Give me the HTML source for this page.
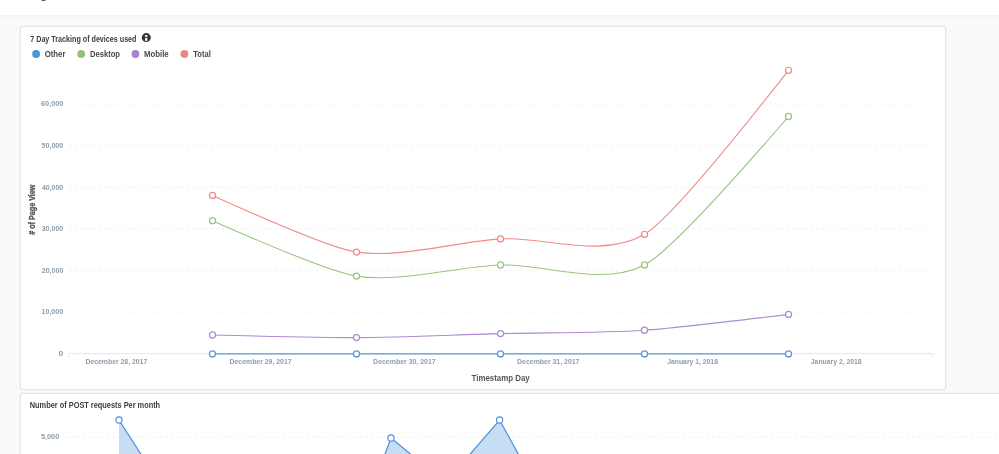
<!DOCTYPE html>
<html><head><meta charset="utf-8">
<style>
html,body{margin:0;padding:0;width:999px;height:454px;overflow:hidden;background:#fff;font-family:"Liberation Sans", sans-serif;}
.hdr{position:absolute;left:0;top:0;width:999px;height:15px;background:#fff;}
.hb{position:absolute;left:0;top:15px;width:999px;height:2px;background:#f4f5f5;}
.bg{position:absolute;left:0;top:17px;width:999px;height:437px;background:#f9fafb;}
.card{position:absolute;background:#fff;border:1px solid #e6e6e6;border-radius:3px;box-sizing:border-box;box-shadow:0 0 0 0.6px #eeeeee;}
.c1{left:20px;top:26px;width:925.6px;height:363.5px;}
.c2{left:20px;top:393px;width:1000px;height:80px;}
.glyph{position:absolute;left:40.7px;top:-4px;width:5px;height:5px;background:#50535c;border-radius:0 0 2px 2px;}
svg{position:absolute;left:0;top:0;will-change:transform;}
</style></head><body>
<div class="hdr"><div class="glyph"></div></div>
<div class="hb"></div>
<div class="bg"></div>
<div class="card c1"></div>
<div class="card c2"></div>
<svg width="999" height="454" viewBox="0 0 999 454" font-family='"Liberation Sans", sans-serif'>
<circle cx="146.3" cy="37.6" r="4.5" fill="#333"/>
<rect x="145.15" y="35.0" width="2.2" height="1.9" fill="#fff"/>
<rect x="145.15" y="37.9" width="2.2" height="3.0" fill="#fff"/>
<circle cx="36.1" cy="54" r="3.9" fill="#4a93df"/>
<circle cx="81.2" cy="54" r="3.9" fill="#93c175"/>
<circle cx="135.4" cy="54" r="3.9" fill="#a685cc"/>
<circle cx="184.4" cy="54" r="3.9" fill="#ee8585"/>
<line x1="68.9" y1="312.02" x2="930.5" y2="312.02" stroke="#f2f2f2" stroke-width="1" stroke-dasharray="3.2,2.682"/>
<line x1="68.9" y1="270.44" x2="930.5" y2="270.44" stroke="#f2f2f2" stroke-width="1" stroke-dasharray="3.2,2.682"/>
<line x1="68.9" y1="228.86" x2="930.5" y2="228.86" stroke="#f2f2f2" stroke-width="1" stroke-dasharray="3.2,2.682"/>
<line x1="68.9" y1="187.28" x2="930.5" y2="187.28" stroke="#f2f2f2" stroke-width="1" stroke-dasharray="3.2,2.682"/>
<line x1="68.9" y1="145.70" x2="930.5" y2="145.70" stroke="#f2f2f2" stroke-width="1" stroke-dasharray="3.2,2.682"/>
<line x1="68.9" y1="104.12" x2="930.5" y2="104.12" stroke="#f2f2f2" stroke-width="1" stroke-dasharray="3.2,2.682"/>
<path d="M68.5,357.1V353.6H932.7V357.1" fill="none" stroke="#e6e8ea" stroke-width="1"/>
<path d="M212.50,353.90Q327.70,353.90,356.50,353.90C399.70,353.90,457.30,353.90,500.50,353.90S601.30,353.90,644.50,353.90Q673.30,353.90,788.50,353.90" fill="none" stroke="#5298e2" stroke-width="1.1"/>
<circle cx="212.5" cy="353.9" r="3.05" fill="#fff" stroke="#5298e2" stroke-width="1.2"/>
<circle cx="356.5" cy="353.9" r="3.05" fill="#fff" stroke="#5298e2" stroke-width="1.2"/>
<circle cx="500.5" cy="353.9" r="3.05" fill="#fff" stroke="#5298e2" stroke-width="1.2"/>
<circle cx="644.5" cy="353.9" r="3.05" fill="#fff" stroke="#5298e2" stroke-width="1.2"/>
<circle cx="788.5" cy="353.9" r="3.05" fill="#fff" stroke="#5298e2" stroke-width="1.2"/>
<path d="M212.50,335.00Q327.70,337.74,356.50,337.60C399.70,337.39,457.30,334.71,500.50,333.60S601.30,333.08,644.50,330.20Q673.30,328.28,788.50,314.40" fill="none" stroke="#ad8ad3" stroke-width="1.1"/>
<circle cx="212.5" cy="335.0" r="3.05" fill="#fff" stroke="#ad8ad3" stroke-width="1.2"/>
<circle cx="356.5" cy="337.6" r="3.05" fill="#fff" stroke="#ad8ad3" stroke-width="1.2"/>
<circle cx="500.5" cy="333.6" r="3.05" fill="#fff" stroke="#ad8ad3" stroke-width="1.2"/>
<circle cx="644.5" cy="330.2" r="3.05" fill="#fff" stroke="#ad8ad3" stroke-width="1.2"/>
<circle cx="788.5" cy="314.4" r="3.05" fill="#fff" stroke="#ad8ad3" stroke-width="1.2"/>
<path d="M212.50,220.70Q327.70,271.67,356.50,276.10C399.70,282.75,457.30,266.67,500.50,265.00S601.30,287.27,644.50,265.00Q673.30,250.15,788.50,116.50" fill="none" stroke="#98c47d" stroke-width="1.1"/>
<circle cx="212.5" cy="220.7" r="3.05" fill="#fff" stroke="#98c47d" stroke-width="1.2"/>
<circle cx="356.5" cy="276.1" r="3.05" fill="#fff" stroke="#98c47d" stroke-width="1.2"/>
<circle cx="500.5" cy="265.0" r="3.05" fill="#fff" stroke="#98c47d" stroke-width="1.2"/>
<circle cx="644.5" cy="265.0" r="3.05" fill="#fff" stroke="#98c47d" stroke-width="1.2"/>
<circle cx="788.5" cy="116.5" r="3.05" fill="#fff" stroke="#98c47d" stroke-width="1.2"/>
<path d="M212.50,195.40Q327.70,247.75,356.50,252.10C399.70,258.62,457.30,241.57,500.50,238.90S601.30,259.59,644.50,234.30Q673.30,217.44,788.50,70.30" fill="none" stroke="#f08a8a" stroke-width="1.1"/>
<circle cx="212.5" cy="195.4" r="3.05" fill="#fff" stroke="#f08a8a" stroke-width="1.2"/>
<circle cx="356.5" cy="252.1" r="3.05" fill="#fff" stroke="#f08a8a" stroke-width="1.2"/>
<circle cx="500.5" cy="238.9" r="3.05" fill="#fff" stroke="#f08a8a" stroke-width="1.2"/>
<circle cx="644.5" cy="234.3" r="3.05" fill="#fff" stroke="#f08a8a" stroke-width="1.2"/>
<circle cx="788.5" cy="70.3" r="3.05" fill="#fff" stroke="#f08a8a" stroke-width="1.2"/>
<text transform="translate(35.0,209.7) rotate(-90) scale(1,1.12)" x="0" y="0" text-anchor="middle" font-size="7.86" font-weight="bold" fill="#555555" stroke="#555555" stroke-width="0.3" textLength="50.2" lengthAdjust="spacingAndGlyphs">&#35; of Page View</text>
<line x1="64.9" y1="437.0" x2="999" y2="437.0" stroke="#f2f2f2" stroke-width="1" stroke-dasharray="3.2,2.682"/>
<path d="M119,480L119,420L157.47,480Z" fill="#c6ddf4"/>
<path d="M375.25,480L391,438L441.92,480Z" fill="#c6ddf4"/>
<path d="M447.72,480L499.6,420L532.42,480Z" fill="#c6ddf4"/>
<path d="M119,420L157.47,480M375.25,480L391,438L441.92,480M447.72,480L499.6,420L532.42,480" fill="none" stroke="#4a90dc" stroke-width="1.2"/>
<circle cx="119" cy="420" r="3.15" fill="#fff" stroke="#4a90dc" stroke-width="1.1"/>
<circle cx="391" cy="438" r="3.15" fill="#fff" stroke="#4a90dc" stroke-width="1.1"/>
<circle cx="499.6" cy="420" r="3.15" fill="#fff" stroke="#4a90dc" stroke-width="1.1"/>
<g transform="translate(30.25,41.6) scale(1,1.12)"><text x="0" y="0" font-size="7.50" font-weight="bold" fill="#3d3d3d" stroke="#3d3d3d" stroke-width="0.0" textLength="106.22" lengthAdjust="spacingAndGlyphs">7 Day Tracking of devices used</text></g>
<g transform="translate(44.67,56.7) scale(1,1.12)"><text x="0" y="0" font-size="7.50" font-weight="bold" fill="#484848" stroke="#484848" stroke-width="0.0" textLength="20.81" lengthAdjust="spacingAndGlyphs">Other</text></g>
<g transform="translate(90.01,56.7) scale(1,1.12)"><text x="0" y="0" font-size="7.50" font-weight="bold" fill="#484848" stroke="#484848" stroke-width="0.0" textLength="30.02" lengthAdjust="spacingAndGlyphs">Desktop</text></g>
<g transform="translate(143.99,56.7) scale(1,1.12)"><text x="0" y="0" font-size="7.50" font-weight="bold" fill="#484848" stroke="#484848" stroke-width="0.0" textLength="24.71" lengthAdjust="spacingAndGlyphs">Mobile</text></g>
<g transform="translate(193.27,56.7) scale(1,1.12)"><text x="0" y="0" font-size="7.50" font-weight="bold" fill="#484848" stroke="#484848" stroke-width="0.0" textLength="17.54" lengthAdjust="spacingAndGlyphs">Total</text></g>
<g transform="translate(58.53,355.8) scale(1,1.12)"><text x="0" y="0" font-size="6.79" font-weight="bold" fill="#8f9cab" stroke="#8f9cab" stroke-width="0.0" textLength="4.82" lengthAdjust="spacingAndGlyphs">0</text></g>
<g transform="translate(41.45,314.3) scale(1,1.12)"><text x="0" y="0" font-size="6.79" font-weight="bold" fill="#8f9cab" stroke="#8f9cab" stroke-width="0.0" textLength="21.81" lengthAdjust="spacingAndGlyphs">10,000</text></g>
<g transform="translate(41.72,272.7) scale(1,1.12)"><text x="0" y="0" font-size="6.79" font-weight="bold" fill="#8f9cab" stroke="#8f9cab" stroke-width="0.0" textLength="21.62" lengthAdjust="spacingAndGlyphs">20,000</text></g>
<g transform="translate(41.63,231.1) scale(1,1.12)"><text x="0" y="0" font-size="6.79" font-weight="bold" fill="#8f9cab" stroke="#8f9cab" stroke-width="0.0" textLength="21.67" lengthAdjust="spacingAndGlyphs">30,000</text></g>
<g transform="translate(41.92,189.6) scale(1,1.12)"><text x="0" y="0" font-size="6.79" font-weight="bold" fill="#8f9cab" stroke="#8f9cab" stroke-width="0.0" textLength="21.33" lengthAdjust="spacingAndGlyphs">40,000</text></g>
<g transform="translate(41.51,148.0) scale(1,1.12)"><text x="0" y="0" font-size="6.79" font-weight="bold" fill="#8f9cab" stroke="#8f9cab" stroke-width="0.0" textLength="21.75" lengthAdjust="spacingAndGlyphs">50,000</text></g>
<g transform="translate(41.09,106.4) scale(1,1.12)"><text x="0" y="0" font-size="6.79" font-weight="bold" fill="#8f9cab" stroke="#8f9cab" stroke-width="0.0" textLength="22.16" lengthAdjust="spacingAndGlyphs">60,000</text></g>
<g transform="translate(85.43,363.8) scale(1,1.12)"><text x="0" y="0" font-size="6.79" font-weight="bold" fill="#8f9cab" stroke="#8f9cab" stroke-width="0.0" textLength="61.81" lengthAdjust="spacingAndGlyphs">December 28, 2017</text></g>
<g transform="translate(229.56,363.8) scale(1,1.12)"><text x="0" y="0" font-size="6.79" font-weight="bold" fill="#8f9cab" stroke="#8f9cab" stroke-width="0.0" textLength="62.00" lengthAdjust="spacingAndGlyphs">December 29, 2017</text></g>
<g transform="translate(373.11,363.8) scale(1,1.12)"><text x="0" y="0" font-size="6.79" font-weight="bold" fill="#8f9cab" stroke="#8f9cab" stroke-width="0.0" textLength="62.57" lengthAdjust="spacingAndGlyphs">December 30, 2017</text></g>
<g transform="translate(517.11,363.8) scale(1,1.12)"><text x="0" y="0" font-size="6.79" font-weight="bold" fill="#8f9cab" stroke="#8f9cab" stroke-width="0.0" textLength="62.33" lengthAdjust="spacingAndGlyphs">December 31, 2017</text></g>
<g transform="translate(667.22,363.8) scale(1,1.12)"><text x="0" y="0" font-size="6.79" font-weight="bold" fill="#8f9cab" stroke="#8f9cab" stroke-width="0.0" textLength="50.70" lengthAdjust="spacingAndGlyphs">January 1, 2018</text></g>
<g transform="translate(810.81,363.8) scale(1,1.12)"><text x="0" y="0" font-size="6.79" font-weight="bold" fill="#8f9cab" stroke="#8f9cab" stroke-width="0.0" textLength="50.84" lengthAdjust="spacingAndGlyphs">January 2, 2018</text></g>
<g transform="translate(471.58,380.6) scale(1,1.12)"><text x="0" y="0" font-size="8.04" font-weight="bold" fill="#555555" stroke="#555555" stroke-width="0.0" textLength="58.08" lengthAdjust="spacingAndGlyphs">Timestamp Day</text></g>
<g transform="translate(29.79,407.8) scale(1,1.12)"><text x="0" y="0" font-size="7.50" font-weight="bold" fill="#3d3d3d" stroke="#3d3d3d" stroke-width="0.0" textLength="130.34" lengthAdjust="spacingAndGlyphs">Number of POST requests Per month</text></g>
<g transform="translate(40.91,439.1) scale(1,1.12)"><text x="0" y="0" font-size="6.79" font-weight="bold" fill="#8f9cab" stroke="#8f9cab" stroke-width="0.0" textLength="18.37" lengthAdjust="spacingAndGlyphs">5,000</text></g>
</svg>
</body></html>
